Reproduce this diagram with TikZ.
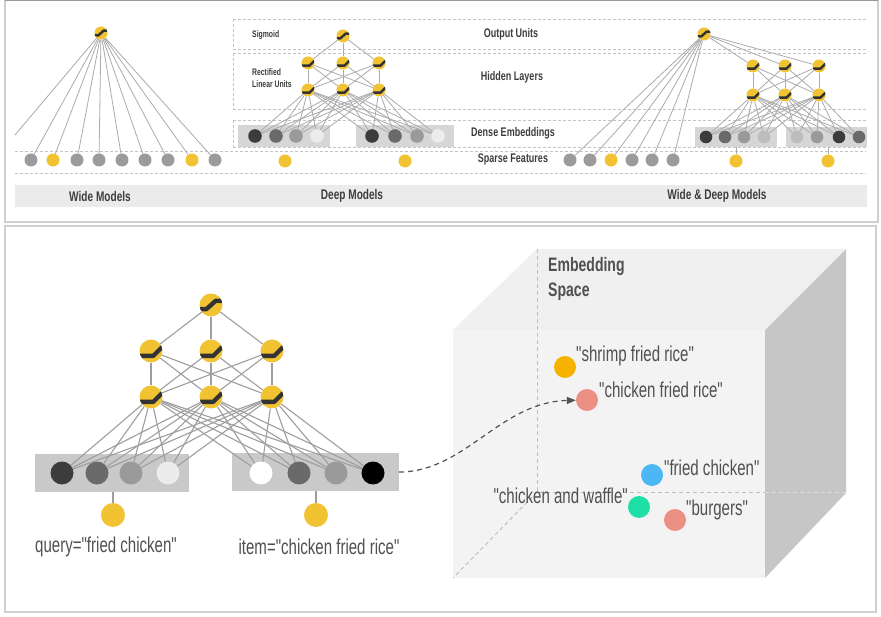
\documentclass[tikz,border=0pt]{standalone}
\usepackage{fontspec}
\setmainfont{Liberation Sans}
\newfontfamily\condreg{Liberation Sans}[FakeStretch=0.7]
\newfontfamily\condbold{Liberation Sans Bold}[FakeStretch=0.72]
\usetikzlibrary{arrows.meta}
\definecolor{ygold}{HTML}{F1C232}
\definecolor{dk}{HTML}{333333}
\definecolor{sgray}{HTML}{9B9B9B}
\definecolor{edgec}{HTML}{ABABAB}
\definecolor{edgeb}{HTML}{9E9E9E}
\definecolor{bandc}{HTML}{C4C4C4}
\definecolor{barc}{HTML}{EBEBEB}
\definecolor{boxt}{HTML}{D6D6D6}
\definecolor{boxb}{HTML}{C9C9C9}
\definecolor{txt}{HTML}{3E3E3E}
\definecolor{txtr}{HTML}{505050}
\definecolor{panelc}{HTML}{CFCFCF}
\definecolor{frontc}{HTML}{F3F3F3}
\definecolor{topc}{HTML}{F0F0F0}
\definecolor{sidec}{HTML}{C6C6C6}
\definecolor{hidc}{HTML}{BDBDBD}
\definecolor{hidl}{HTML}{DCDCDC}
\definecolor{orng}{HTML}{F5B300}
\definecolor{salm}{HTML}{EC8F84}
\definecolor{blu}{HTML}{4DB6F5}
\definecolor{teal2}{HTML}{1EE0A6}
\definecolor{gA}{HTML}{3C3C3C}
\definecolor{gB}{HTML}{6A6A6A}
\definecolor{gC}{HTML}{9A9A9A}
\definecolor{gD}{HTML}{BDBDBD}
\definecolor{gE}{HTML}{ECECEC}
\tikzset{
  unit/.style={circle, inner sep=0pt, minimum size={2*#1pt}, fill=ygold, draw=none},
  sig/.style={unit=#1, path picture={\draw[dk, line width={0.38*#1pt}, line join=round]
     ([shift={({-1.3*#1pt},{-0.36*#1pt})}]path picture bounding box.center) -- ++({0.9*#1pt},0pt) -- ++({0.8*#1pt},{0.72*#1pt}) -- ++({0.9*#1pt},0pt);}},
  relu/.style={unit=#1, path picture={\draw[dk, line width={0.38*#1pt}, line join=round]
     ([shift={({-1.3*#1pt},{-0.42*#1pt})}]path picture bounding box.center) -- ++({1.5*#1pt},0pt) -- ++({1.0*#1pt},{1.0*#1pt});}},
  dot/.style={circle, inner sep=0pt, minimum size={2*#1pt}, draw=none},
  edge/.style={draw=edgec, line width=0.8pt},
  edgeB/.style={draw=edgeb, line width=1.1pt},
  band/.style={draw=bandc, line width=0.8pt, dash pattern=on 3pt off 2pt},
  panel/.style={draw=panelc, line width=1.5pt, fill=white},
  boxT/.style={rectangle, fill=boxt, draw=none, inner sep=0pt},
  boxB/.style={rectangle, fill=boxb, draw=none, inner sep=0pt},
  bigl/.style={text=txt, font=\condbold\fontsize{14}{16}\selectfont, inner sep=0pt},
  midl/.style={text=txt, font=\condbold\fontsize{12.5}{14}\selectfont, inner sep=0pt},
  smll/.style={text=txt, font=\condbold\fontsize{9.5}{12}\selectfont, inner sep=0pt, align=left},
  regl/.style={text=txtr, font=\condreg\fontsize{21.5}{24}\selectfont, inner sep=0pt},
  embl/.style={text=txtr, font=\condbold\fontsize{19.5}{25}\selectfont, inner sep=0pt, align=left},
  hidden/.style={draw=hidc, line width=0.9pt, dash pattern=on 4pt off 3pt},
  flow/.style={draw=dk!85, line width=1.2pt, dash pattern=on 5pt off 4pt, -{Triangle[length=9pt,width=7pt]}},
}
\begin{document}
\begin{tikzpicture}[x=1pt,y=-1pt]
\useasboundingbox (0,0) rectangle (881,617);
\fill[white] (0,0) rectangle (881,617);
% ---------- panels
\draw[panel] (5,0.5) rectangle (878,222);
\draw[draw=gB!70, line width=1.2pt] (5,0.6) -- (878,0.6);
\draw[panel] (5,226) rectangle (876,612);
% ---------- top bands
\foreach \yy in {19,49,53,109,120,147} \draw[band] (233,\yy) -- (866,\yy);
\foreach \yy in {151,173} \draw[band] (15,\yy) -- (866,\yy);
\draw[band] (233,19) -- (233,49) (233,53) -- (233,109) (233,120) -- (233,147);
\fill[barc] (15,185) rectangle (867,207);
\node[bigl] (lw) at (100,196) {Wide Models};
\node[bigl] (ld) at (352,196) {Deep Models};
\node[bigl] (lwd) at (717,196) {Wide \& Deep Models};
\node[midl] (lou) at (511,34) {Output Units};
\node[midl] (lhl) at (512,77) {Hidden Layers};
\node[midl] (lde) at (513,133) {Dense Embeddings};
\node[midl] (lsf) at (513,159) {Sparse Features};
\node[smll, anchor=west] (lsg) at (252,35) {Sigmoid};
\node[smll, anchor=west] (lrl) at (252,78) {Rectified\\Linear Units};
% ---------- wide model
\node[sig=6.5] (w-o) at (101,33) {};
\foreach \x/\c [count=\i] in {31/sgray,53/ygold,77/sgray,99/sgray,122/sgray,145/sgray,168/sgray,192/ygold,215/sgray}
  {\node[dot=6.5, fill=\c] (w-s\i) at (\x,160) {};
   \draw[edge] (w-o) -- (w-s\i);}
\coordinate (w-x) at (15,135);
\draw[edge] (w-o) -- (w-x);
% ---------- deep model
\node[sig=6.5] (d-o) at (343,36) {};
\foreach \x [count=\i] in {308,343,379}
  {\node[relu=6.5] (d-a\i) at (\x,63) {};
   \node[relu=6.5] (d-b\i) at (\x,90) {};}
\node[boxT, minimum width=92pt, minimum height=22pt] (d-L) at (284,136) {};
\node[boxT, minimum width=98pt, minimum height=22pt] (d-R) at (405,136) {};
\foreach \x/\c [count=\i] in {255/gA,276/gB,296/gC,317/gE,372/gA,395/gB,417/gC,438/gE}
  \node[dot=6.8, fill=\c] (d-e\i) at (\x,136) {};
\node[dot=6.5, fill=ygold] (d-s1) at (285,161) {};
\node[dot=6.5, fill=ygold] (d-s2) at (405,161) {};
\foreach \i in {1,2,3}
  {\draw[edge] (d-o) -- (d-a\i);
   \foreach \j in {1,2,3} \draw[edge] (d-a\i) -- (d-b\j);
   \foreach \k in {1,...,8} \draw[edge] (d-b\i) -- (d-e\k);}
% ---------- wide & deep model
\node[sig=6.5] (wd-o) at (704,34) {};
\foreach \x [count=\i] in {753,785,819}
  {\node[relu=6.5] (wd-a\i) at (\x,66) {};
   \node[relu=6.5] (wd-b\i) at (\x,95) {};}
\node[boxT, minimum width=82pt, minimum height=20pt] (wd-L) at (736,137) {};
\node[boxT, minimum width=81pt, minimum height=20pt] (wd-R) at (826.5,137) {};
\foreach \x/\c [count=\i] in {706/gA,725/gB,744/gC,764/gD,797/gD,817/gC,839/gA,859/gB}
  \node[dot=6.3, fill=\c] (wd-e\i) at (\x,137) {};
\foreach \x/\c [count=\i] in {570/sgray,590/sgray,611/ygold,632/sgray,652/sgray,673/sgray}
  {\node[dot=6.5, fill=\c] (wd-w\i) at (\x,160) {};
   \draw[edge] (wd-o) -- (wd-w\i);}
\node[dot=6.5, fill=ygold] (wd-s1) at (736,161) {};
\node[dot=6.5, fill=ygold] (wd-s2) at (828,161) {};
\draw[edge] (wd-s1) -- (wd-s1 |- wd-L.south);
\draw[edge] (wd-s2) -- (wd-s2 |- wd-R.south);
\foreach \i in {1,2,3}
  {\draw[edge] (wd-o) -- (wd-a\i);
   \foreach \j in {1,2,3} \draw[edge] (wd-a\i) -- (wd-b\j);
   \foreach \k in {1,...,8} \draw[edge] (wd-b\i) -- (wd-e\k);}
% ---------- bottom network
\node[sig=11.5] (b-o) at (211,305) {};
\foreach \x [count=\i] in {151,211,272}
  {\node[relu=11.5] (b-a\i) at (\x,351) {};
   \node[relu=11.5] (b-b\i) at (\x,397) {};}
\node[boxB, minimum width=154pt, minimum height=38pt] (b-L) at (112,473) {};
\node[boxB, minimum width=167pt, minimum height=38pt] (b-R) at (315.5,472) {};
\foreach \x/\c [count=\i] in {62/gA,97/gB,131/gC,168/gE,261/white,299/gB,336/gC,373/black}
  \node[dot=11.5, fill=\c] (b-e\i) at (\x,473) {};
\node[dot=12, fill=ygold] (b-s1) at (113,515) {};
\node[dot=12, fill=ygold] (b-s2) at (316,515) {};
\draw[edgeB] (b-s1) -- (b-s1 |- b-L.south);
\draw[edgeB] (b-s2) -- (b-s2 |- b-R.south);
\foreach \i in {1,2,3}
  {\draw[edgeB] (b-o) -- (b-a\i);
   \foreach \j in {1,2,3} \draw[edgeB] (b-a\i) -- (b-b\j);
   \foreach \k in {1,...,8} \draw[edgeB] (b-b\i) -- (b-e\k);}
\node[regl] (q-l) at (106,547) {query="fried chicken"};
\node[regl] (i-l) at (319,547) {item="chicken fried rice"};
% ---------- cube
\fill[topc] (453,330) -- (537,249) -- (846,249) -- (765,330) -- cycle;
\fill[frontc] (453,330) rectangle (765,578);
\fill[sidec] (765,330) -- (846,249) -- (846,493) -- (765,578) -- cycle;
\draw[hidden] (537,249) -- (537,492) -- (765,492);
\draw[hidden, draw=hidl] (765,492) -- (846,492);
\draw[hidden] (537,492) -- (453,578);
\node[embl, anchor=north west] (es) at (548,257) {Embedding\\Space};
\node[dot=11, fill=orng] (p-sfr) at (565,367) {};
\node[dot=11, fill=salm] (p-cfr) at (587,400) {};
\node[dot=11, fill=blu] (p-fc) at (652,475) {};
\node[dot=11, fill=teal2] (p-caw) at (639,507) {};
\node[dot=11, fill=salm] (p-bg) at (675,520) {};
\node[regl, anchor=west] (t-sfr) at (576,356) {"shrimp fried rice"};
\node[regl, anchor=west] (t-cfr) at (599,390) {"chicken fried rice"};
\node[regl, anchor=west] (t-fc) at (664,468) {"fried chicken"};
\node[regl, anchor=east] (t-caw) at (628,496) {"chicken and waffle"};
\node[regl, anchor=west] (t-bg) at (686,510) {"burgers"};
% ---------- flow arrow
\draw[flow] (b-R.east) .. controls (465,472) and (500,402) .. (p-cfr);
\end{tikzpicture}
\end{document}
